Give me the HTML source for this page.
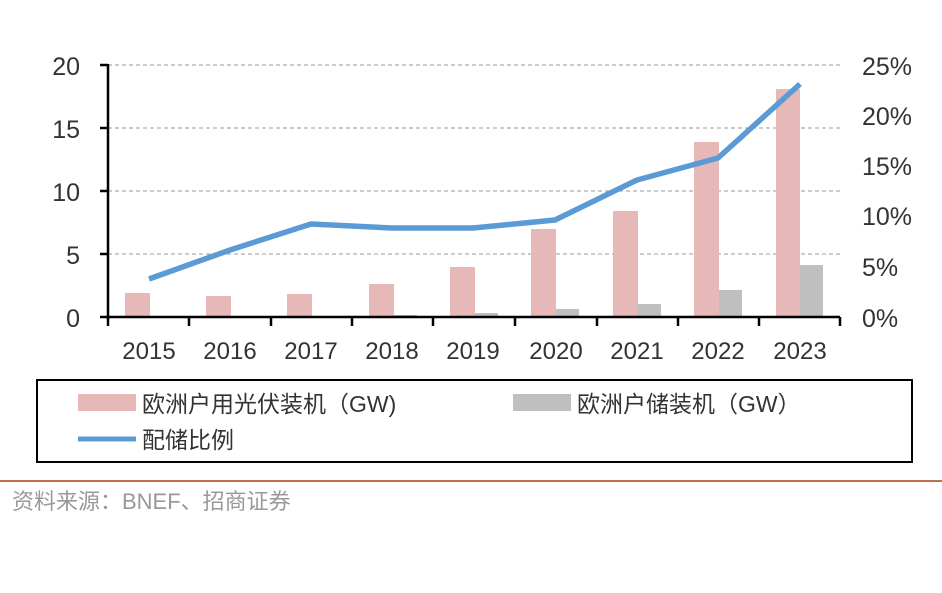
<!DOCTYPE html>
<html><head><meta charset="utf-8"><style>
body{margin:0;background:#fff;width:942px;height:588px;overflow:hidden}
text{font-family:"Liberation Sans","Noto Sans CJK SC",sans-serif}
</style></head><body>
<svg width="942" height="588" xmlns="http://www.w3.org/2000/svg">
<g stroke="#999" stroke-dasharray="4,3" stroke-width="1">
<line x1="108" y1="65" x2="840" y2="65"/><line x1="108" y1="128" x2="840" y2="128"/>
<line x1="108" y1="191" x2="840" y2="191"/><line x1="108" y1="254" x2="840" y2="254"/>
</g>
<g fill="#e6b9b8">
<rect x="125" y="293" width="25" height="24"/>
<rect x="206" y="296" width="25" height="21"/>
<rect x="287" y="294" width="25" height="23"/>
<rect x="369" y="284" width="25" height="33"/>
<rect x="450" y="267" width="25" height="50"/>
<rect x="531" y="229" width="25" height="88"/>
<rect x="613" y="211" width="25" height="106"/>
<rect x="694" y="142" width="25" height="175"/>
<rect x="776" y="89" width="24" height="228"/>
</g>
<g fill="#bfbfbf">
<rect x="312" y="316" width="23" height="1"/>
<rect x="394" y="315" width="23" height="2"/>
<rect x="475" y="313" width="23" height="4"/>
<rect x="556" y="309" width="23" height="8"/>
<rect x="638" y="304" width="23" height="13"/>
<rect x="719" y="290" width="23" height="27"/>
<rect x="800" y="265" width="23" height="52"/>
</g>
<g stroke="#000" stroke-width="2.5">
<line x1="108" y1="64" x2="108" y2="319"/>
<line x1="100" y1="65" x2="108" y2="65"/><line x1="100" y1="128" x2="108" y2="128"/>
<line x1="100" y1="191" x2="108" y2="191"/><line x1="100" y1="254" x2="108" y2="254"/>
<line x1="100" y1="317" x2="840" y2="317"/>
<line x1="108" y1="317" x2="108" y2="326"/><line x1="189" y1="317" x2="189" y2="326"/>
<line x1="271" y1="317" x2="271" y2="326"/><line x1="352" y1="317" x2="352" y2="326"/>
<line x1="433" y1="317" x2="433" y2="326"/><line x1="515" y1="317" x2="515" y2="326"/>
<line x1="597" y1="317" x2="597" y2="326"/><line x1="678" y1="317" x2="678" y2="326"/>
<line x1="759" y1="317" x2="759" y2="326"/><line x1="840" y1="317" x2="840" y2="326"/>
</g>
<polyline fill="none" stroke="#5b9bd5" stroke-width="5.5" stroke-linejoin="round" points="149,279 230,250 311,224 392,228 473,228 555,220 637,180 718,158 800,84"/>
<g font-size="25" fill="#333" text-anchor="end">
<text x="80" y="75">20</text><text x="80" y="138">15</text><text x="80" y="201">10</text>
<text x="80" y="264">5</text><text x="80" y="327">0</text>
</g>
<g font-size="25" fill="#333" text-anchor="start">
<text x="862" y="75">25%</text><text x="862" y="125">20%</text><text x="862" y="175">15%</text>
<text x="862" y="225">10%</text><text x="862" y="276">5%</text><text x="862" y="327">0%</text>
</g>
<g font-size="24" fill="#333" text-anchor="middle">
<text x="149" y="359">2015</text><text x="230" y="359">2016</text><text x="311" y="359">2017</text>
<text x="392" y="359">2018</text><text x="473" y="359">2019</text><text x="556" y="359">2020</text>
<text x="637" y="359">2021</text><text x="718" y="359">2022</text><text x="800" y="359">2023</text>
</g>
<rect x="37" y="380" width="875" height="82" fill="none" stroke="#000" stroke-width="2"/>
<rect x="78" y="394" width="58" height="17" fill="#e6b9b8"/>
<text x="142" y="412" font-size="23" fill="#333">欧洲户用光伏装机（GW)</text>
<rect x="513" y="394" width="58" height="17" fill="#bfbfbf"/>
<text x="577" y="412" font-size="23" fill="#333">欧洲户储装机（GW）</text>
<line x1="78" y1="439" x2="136" y2="439" stroke="#5b9bd5" stroke-width="5"/>
<text x="142" y="448" font-size="23" fill="#333">配储比例</text>
<line x1="0" y1="481" x2="942" y2="481" stroke="#c0704f" stroke-width="2"/>
<text x="12" y="509" font-size="22" fill="#999">资料来源：BNEF、招商证券</text>
</svg>
</body></html>
